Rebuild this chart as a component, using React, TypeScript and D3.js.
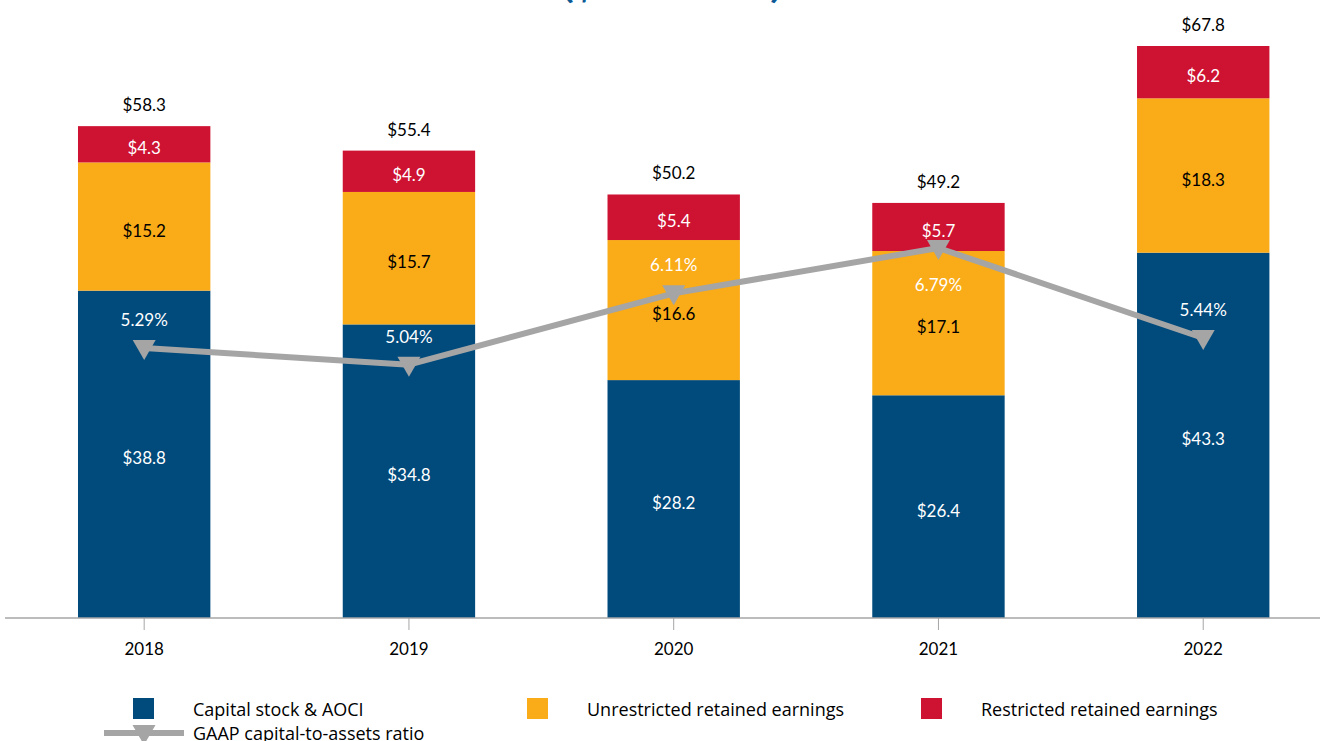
import React from "react";
import * as d3 from "d3";

const years = ["2018", "2019", "2020", "2021", "2022"];
const capitalStock = [38.8, 34.8, 28.2, 26.4, 43.3];
const unrestricted = [15.2, 15.7, 16.6, 17.1, 18.3];
const restricted = [4.3, 4.9, 5.4, 5.7, 6.2];
const totals = [58.3, 55.4, 50.2, 49.2, 67.8];
const ratio = [5.29, 5.04, 6.11, 6.79, 5.44];

const seriesNames = ["Capital stock & AOCI", "Unrestricted retained earnings", "Restricted retained earnings"];
const lineName = "GAAP capital-to-assets ratio";

const BLUE = "#004A7C";
const YELLOW = "#F9AB18";
const RED = "#CE1232";
const GRAY = "#A5A5A5";
const FONT = "Lato, 'Open Sans', sans-serif";
const LEGEND_FONT = "'Open Sans', sans-serif";

export default function App() {
  const W = 1325, H = 741;
  const x = d3.scaleBand<string>().domain(years).range([11.8, 1335.6]).paddingInner(0.5).paddingOuter(0.25);
  const y = d3.scaleLinear().domain([0, 67.8]).range([618, 46]);
  const y2 = d3.scaleLinear().domain([1.24, 9.82]).range([618, 46]);

  const rows = years.map((yr, i) => ({ yr, vals: [capitalStock[i], unrestricted[i], restricted[i]] }));
  const stack = d3.stack<any>().keys(["0", "1", "2"]).value((d, k) => d.vals[+k]);
  const stacked = stack(rows as any);
  const colors = [BLUE, YELLOW, RED];
  const labelColors = ["#fff", "#000", "#fff"];

  const cx = (yr: string) => (x(yr) as number) + x.bandwidth() / 2;
  const line = d3.line<number>().x((d, i) => cx(years[i])).y((d) => y2(d));

  const tri = (px: number, py: number) => `M${px - 11.5},${py - 8} L${px + 11.5},${py - 8} L${px},${py + 12} Z`;

  // ratio label goes below the marker when the point is the local peak near the bar top
  const labelBelow = (i: number) => i === 3;

  return (
    <svg width={W} height={H} style={{ position: "absolute", left: 0, top: 0 }} fontFamily={FONT}>
      <text x={672} y={-1} textAnchor="middle" fontSize={26} fontWeight="bold" fill="#0B5A96" textLength={218} lengthAdjust="spacingAndGlyphs">
        ($ in billions)
      </text>
      {stacked.map((s, si) =>
        s.map((d, i) => (
          <g key={`${si}-${i}`}>
            <rect x={x(years[i])} y={y(d[1])} width={x.bandwidth()} height={y(d[0]) - y(d[1])} fill={colors[si]} />
            <text x={cx(years[i])} y={(y(d[0]) + y(d[1])) / 2 + 10} textAnchor="middle" fontSize={17} fill={labelColors[si]}>
              ${rows[i].vals[si].toFixed(1)}
            </text>
          </g>
        ))
      )}
      {totals.map((t, i) => (
        <text key={i} x={cx(years[i])} y={y(t) - 15} textAnchor="middle" fontSize={17} fill="#000">
          ${t.toFixed(1)}
        </text>
      ))}
      <line x1={5} x2={1320} y1={y(0)} y2={y(0)} stroke="#A6A6A6" strokeWidth={1.5} />
      {years.map((yr) => (
        <g key={yr}>
          <line x1={cx(yr)} x2={cx(yr)} y1={y(0)} y2={y(0) + 12} stroke="#A6A6A6" strokeWidth={1} />
          <text x={cx(yr)} y={655} textAnchor="middle" fontSize={17} fill="#000">{yr}</text>
        </g>
      ))}
      <path d={line(ratio) || ""} fill="none" stroke={GRAY} strokeWidth={6} strokeLinejoin="round" />
      {ratio.map((r, i) => (
        <g key={i}>
          <path d={tri(cx(years[i]), y2(r))} fill={GRAY} />
          <text x={cx(years[i])} y={labelBelow(i) ? y2(r) + 43 : y2(r) - 22} textAnchor="middle" fontSize={17} fill="#fff">
            {r.toFixed(2)}%
          </text>
        </g>
      ))}
      {seriesNames.map((n, i) => (
        <g key={n}>
          <rect x={133 + i * 394} y={698} width={21} height={21} fill={colors[i]} />
          <text x={193 + i * 394} y={716} fontSize={18} fontFamily={LEGEND_FONT} fill="#000">{n}</text>
        </g>
      ))}
      <line x1={104} x2={184} y1={733} y2={733} stroke={GRAY} strokeWidth={6} />
      <path d={tri(144, 733)} fill={GRAY} />
      <text x={193} y={740} fontSize={18} fontFamily={LEGEND_FONT} fill="#000">{lineName}</text>
    </svg>
  );
}
